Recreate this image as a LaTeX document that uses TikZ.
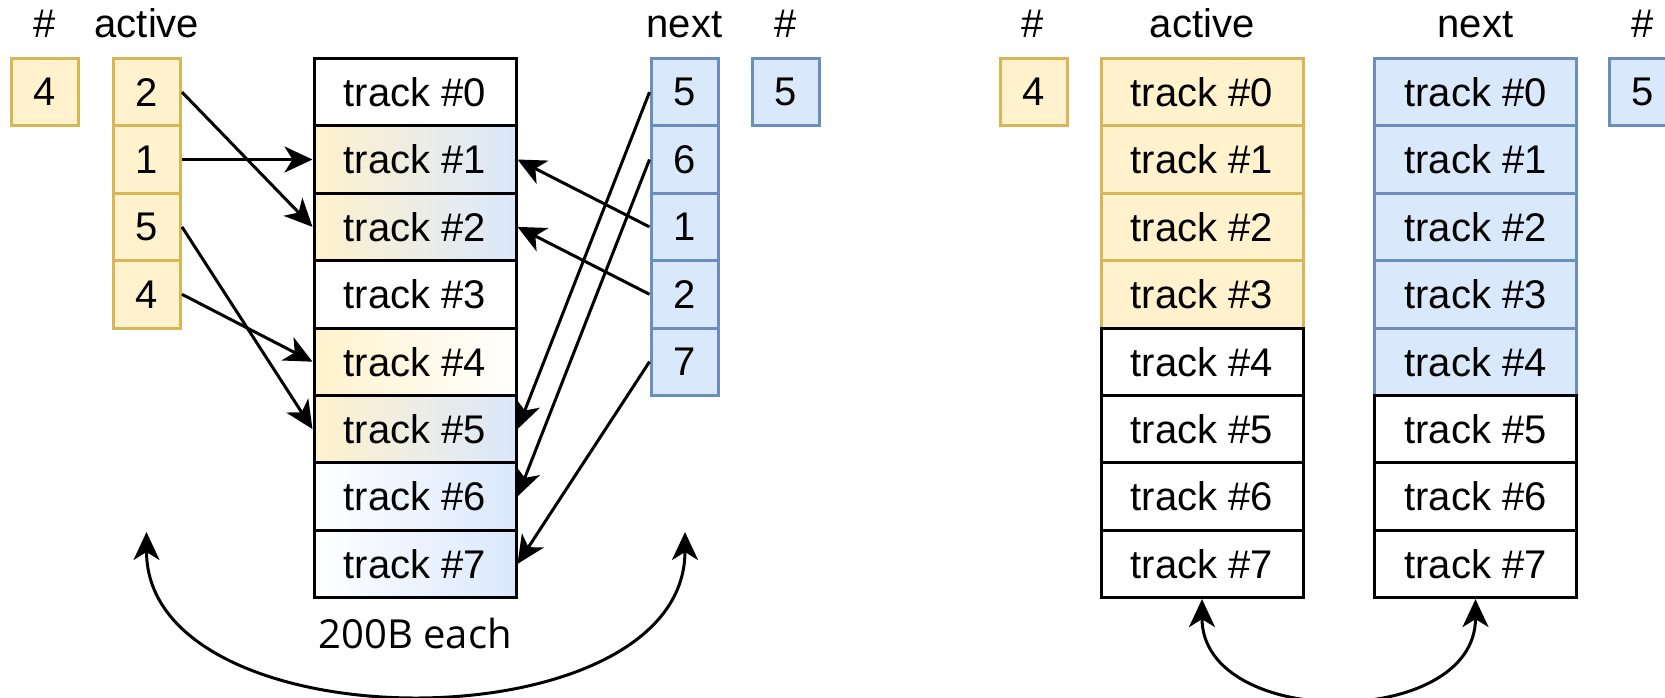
\documentclass[tikz,border=0pt]{standalone}
\usepackage{fontspec}
\setmainfont{Liberation Sans}
\newfontfamily\altfont{Open Sans}
\usetikzlibrary{arrows.meta}
\definecolor{yfill}{HTML}{FFF2CC}
\definecolor{ydraw}{HTML}{D6B656}
\definecolor{bfill}{HTML}{DAE8FC}
\definecolor{bdraw}{HTML}{6C8EBF}
\begin{document}
\begin{tikzpicture}[x=0.5pt,y=-0.5pt,
  every node/.style={font=\fontsize{20}{24}\selectfont, inner sep=0pt},
  sq/.style={minimum width=33.5pt, minimum height=33.7pt, line width=1.5pt},
  ysq/.style={sq, draw=ydraw, fill=yfill},
  bsq/.style={sq, draw=bdraw, fill=bfill},
  trk/.style={minimum width=101pt, minimum height=33.7pt, line width=1.5pt, draw=black, fill=white},
  ytrk/.style={trk, draw=ydraw, fill=yfill},
  btrk/.style={trk, draw=bdraw, fill=bfill},
  lbl/.style={anchor=base},
  tip/.style={Stealth[length=14pt,width=13pt,inset=4pt]},
  arr/.style={line width=1.5pt, -{Stealth[length=14pt,width=13pt,inset=4pt]}},
  dblarr/.style={line width=1.5pt, {Stealth[length=14pt,width=13pt,inset=4pt]}-{Stealth[length=14pt,width=13pt,inset=4pt]}}
]
\useasboundingbox (0,0) rectangle (1665,697);
\clip (0,0) rectangle (1665,697);

% ---------- left panel ----------
\node[lbl] (lh1) at (45,37) {\#};
\node[lbl] (lact) at (147,37) {active};
\node[lbl] (lnext) at (684.5,37) {next};
\node[lbl] (lh2) at (785.5,37) {\#};

\node[ysq] (c1) at (45,92.1) {4};
\node[ysq] (a0) at (147,92.1) {2};
\node[ysq] (a1) at (147,159.5) {1};
\node[ysq] (a2) at (147,226.9) {5};
\node[ysq] (a3) at (147,294.3) {4};

\node[bsq] (n0) at (684.5,92.1) {5};
\node[bsq] (n1) at (684.5,159.5) {6};
\node[bsq] (n2) at (684.5,226.9) {1};
\node[bsq] (n3) at (684.5,294.3) {2};
\node[bsq] (n4) at (684.5,361.7) {7};
\node[bsq] (c2) at (785.5,92.1) {5};

\node[trk] (t0) at (415,92.1) {track \#0};
\node[trk, left color=yfill, right color=bfill] (t1) at (415,159.5) {track \#1};
\node[trk, left color=yfill, right color=bfill] (t2) at (415,226.9) {track \#2};
\node[trk] (t3) at (415,294.3) {track \#3};
\node[trk, left color=yfill, right color=white] (t4) at (415,361.7) {track \#4};
\node[trk, left color=yfill, right color=bfill] (t5) at (415,429.1) {track \#5};
\node[trk, left color=white, right color=bfill] (t6) at (415,496.5) {track \#6};
\node[trk, left color=white, right color=bfill] (t7) at (415,563.9) {track \#7};

\node (each) at (415,633) {\altfont 200B each};

\draw[arr] (a0.east) -- (t2.west);
\draw[arr] (a1.east) -- (t1.west);
\draw[arr] (a2.east) -- (t5.west);
\draw[arr] (a3.east) -- (t4.west);
\draw[arr] (n0.west) -- (t5.east);
\draw[arr] (n1.west) -- (t6.east);
\draw[arr] (n2.west) -- (t1.east);
\draw[arr] (n3.west) -- (t2.east);
\draw[arr] (n4.west) -- (t7.east);

\coordinate (cl) at (146.5,532);
\coordinate (cr) at (685,532);
\draw[dblarr] (cl) .. controls (146.5,747) and (685,747) .. (cr);

% ---------- right panel ----------
\node[lbl] (rh1) at (1033,37) {\#};
\node[lbl] (ract) at (1202,37) {active};
\node[lbl] (rnext) at (1475.5,37) {next};
\node[lbl] (rh2) at (1643,37) {\#};

\node[ysq] (d1) at (1034,92.1) {4};
\node[bsq] (d2) at (1643,92.1) {5};

\node[ytrk] (p0) at (1202,92.1) {track \#0};
\node[ytrk] (p1) at (1202,159.5) {track \#1};
\node[ytrk] (p2) at (1202,226.9) {track \#2};
\node[ytrk] (p3) at (1202,294.3) {track \#3};
\node[trk] (p4) at (1202,361.7) {track \#4};
\node[trk] (p5) at (1202,429.1) {track \#5};
\node[trk] (p6) at (1202,496.5) {track \#6};
\node[trk] (p7) at (1202,563.9) {track \#7};

\node[btrk] (q0) at (1475.5,92.1) {track \#0};
\node[btrk] (q1) at (1475.5,159.5) {track \#1};
\node[btrk] (q2) at (1475.5,226.9) {track \#2};
\node[btrk] (q3) at (1475.5,294.3) {track \#3};
\node[btrk] (q4) at (1475.5,361.7) {track \#4};
\node[trk] (q5) at (1475.5,429.1) {track \#5};
\node[trk] (q6) at (1475.5,496.5) {track \#6};
\node[trk] (q7) at (1475.5,563.9) {track \#7};

\draw[dblarr] (p7.south) .. controls (1202,730) and (1475.5,730) .. (q7.south);
\end{tikzpicture}
\end{document}
